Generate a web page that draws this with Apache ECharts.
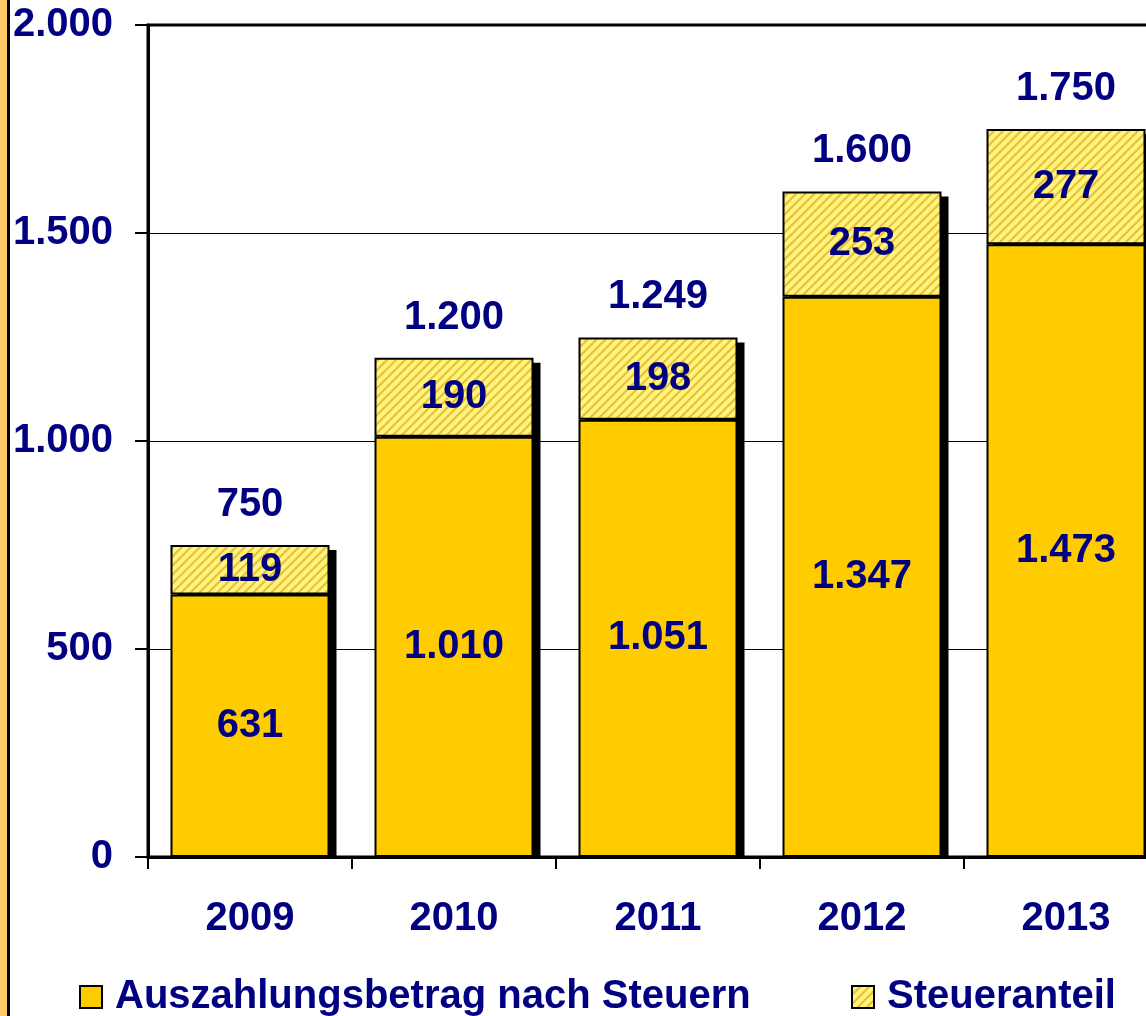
<!DOCTYPE html>
<html>
<head>
<meta charset="utf-8">
<script src="https://cdn.jsdelivr.net/npm/echarts@6/dist/echarts.min.js"></script>
<style>
  html, body { margin: 0; padding: 0; background: #fff; overflow: hidden; }
  /* the plot frame runs past the right edge of the picture */
  #chart { width: 1168px; height: 1016px; }
</style>
</head>
<body>
<div id="chart"></div>
<script>
const years = ['2009', '2010', '2011', '2012', '2013']
const netPayout = [631, 1010, 1051, 1347, 1473]
const taxShare = [119, 190, 198, 253, 277]
const totals = [750, 1200, 1249, 1600, 1750]
const yTicks = { min: 0, max: 2000, interval: 500 }

const NAVY = '#000080'
const GOLD = '#FFCC00'
const FONT = 'Liberation Sans, Arial, sans-serif'
const BAR_W = 159

// German thousands separator
const fmt = v => String(v).replace(/\B(?=(\d{3})+(?!\d))/g, '.')

// diagonal hatch for the tax share
function hatch() {
  const c = document.createElement('canvas')
  c.width = 9; c.height = 9
  const ctx = c.getContext('2d')
  ctx.fillStyle = '#FFF57A'
  ctx.fillRect(0, 0, 9, 9)
  ctx.strokeStyle = '#E8C040'
  ctx.lineWidth = 2.2
  ctx.beginPath()
  ctx.moveTo(-1, 10); ctx.lineTo(10, -1)
  ctx.moveTo(-1, 1); ctx.lineTo(1, -1)
  ctx.moveTo(8, 10); ctx.lineTo(10, 8)
  ctx.stroke()
  return c
}

const chart = echarts.init(document.getElementById('chart'))
const labelStyle = { show: true, color: NAVY, fontFamily: FONT, fontWeight: 'bold', fontSize: 40 }
const legendText = { color: NAVY, fontWeight: 'bold', fontSize: 40, fontFamily: FONT, padding: [0, 0, 0, 8] }

chart.setOption({
  animation: false,
  textStyle: { fontFamily: FONT },
  grid: { left: 148, top: 25, right: 0, bottom: 159, show: true, borderColor: '#000', borderWidth: 3 },
  legend: [
    { data: ['Auszahlungsbetrag nach Steuern'], left: 74, top: 972, icon: 'rect', itemWidth: 22, itemHeight: 22,
      textStyle: legendText, itemStyle: { borderColor: '#000', borderWidth: 2 } },
    { data: ['Steueranteil'], left: 846, top: 972, icon: 'rect', itemWidth: 22, itemHeight: 22,
      textStyle: legendText, itemStyle: { borderColor: '#000', borderWidth: 2 } }
  ],
  xAxis: {
    type: 'category', data: years,
    axisLine: { lineStyle: { color: '#000', width: 3 } },
    axisTick: { show: true, length: 12, lineStyle: { color: '#000', width: 2 } },
    axisLabel: { color: NAVY, fontWeight: 'bold', fontSize: 40, margin: 42, fontFamily: FONT }
  },
  yAxis: {
    type: 'value', min: yTicks.min, max: yTicks.max, interval: yTicks.interval,
    axisLine: { show: true, lineStyle: { color: '#000', width: 3 } },
    axisTick: { show: true, length: 13, lineStyle: { color: '#000', width: 2 } },
    axisLabel: { color: NAVY, fontWeight: 'bold', fontSize: 40, margin: 35, fontFamily: FONT, formatter: fmt },
    splitLine: { lineStyle: { color: '#000', width: 1 } }
  },
  series: [
    {
      // drop shadow behind each full stack
      name: 'Schatten', type: 'custom', z: 1, silent: true,
      data: totals.map((v, i) => [i, v]),
      renderItem: (params, api) => {
        const top = api.coord([api.value(0), api.value(1)])
        const base = api.coord([api.value(0), 0])
        return {
          type: 'rect',
          shape: { x: top[0] - BAR_W / 2 + 7, y: top[1] + 5, width: BAR_W, height: base[1] - top[1] - 5 },
          style: { fill: '#000' }
        }
      }
    },
    {
      name: 'Auszahlungsbetrag nach Steuern', type: 'bar', stack: 'sum', data: netPayout,
      barWidth: BAR_W, z: 3,
      itemStyle: { color: GOLD, borderColor: '#000', borderWidth: 2 },
      label: { ...labelStyle, position: 'inside', formatter: p => fmt(p.value) }
    },
    {
      name: 'Steueranteil', type: 'bar', stack: 'sum', data: taxShare,
      barWidth: BAR_W, z: 2,
      itemStyle: { color: { image: hatch(), repeat: 'repeat' }, borderColor: '#000', borderWidth: 2 },
      label: { ...labelStyle, position: 'inside', formatter: p => fmt(p.value) }
    },
    {
      name: 'Summe', type: 'scatter', data: totals, symbolSize: 0, z: 5,
      itemStyle: { opacity: 1 },
      label: { ...labelStyle, position: 'top', distance: 20, formatter: p => fmt(p.value) }
    }
  ],
  graphic: [
    { type: 'rect', shape: { x: 0, y: 0, width: 7, height: 1016 }, style: { fill: '#FFC966' } },
    { type: 'rect', shape: { x: 7, y: 0, width: 3, height: 1016 }, style: { fill: '#000' } }
  ]
})
</script>
</body>
</html>
